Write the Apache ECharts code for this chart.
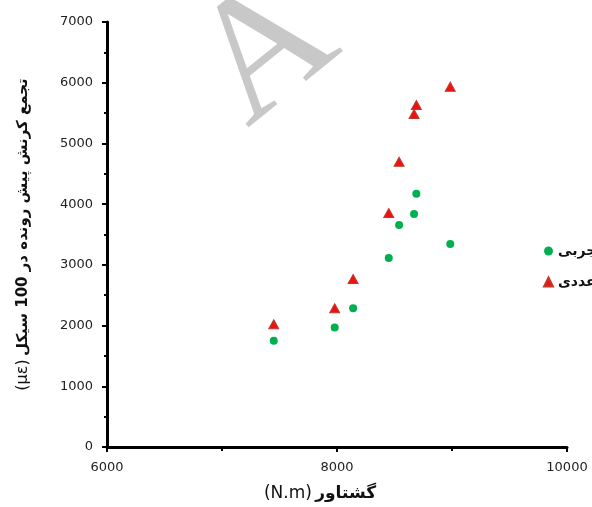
<!DOCTYPE html>
<html>
<head>
<meta charset="utf-8">
<script src="https://cdn.jsdelivr.net/npm/echarts@6/dist/echarts.min.js"></script>
<style>
html,body{margin:0;padding:0;background:#fff;}
#chart{width:592px;height:507px;}
</style>
</head>
<body>
<div id="chart"></div>
<script>
// Torque (N.m)
const torque = [7450, 7980, 8140, 8450, 8540, 8670, 8690, 8985];
// Experimental (تجربی) accumulated ratcheting strain in 100 cycles (με)
const experimental = [1750, 1970, 2285, 3113, 3657, 3838, 4172, 3344];
// Numerical (عددی)
const numerical = [2021, 2285, 2767, 3854, 4699, 5485, 5634, 5935];
const seriesNames = ['تجربی', 'عددی'];
const yTicks = [0, 1000, 2000, 3000, 4000, 5000, 6000, 7000];
const xTicks = [6000, 8000, 10000];

const chart = echarts.init(document.getElementById('chart'), null, {renderer: 'canvas'});
const pairs = (xs, ys) => xs.map((x, i) => [x, ys[i]]);
const axisStyle = {lineStyle: {color: '#000', width: 3}};
const plain = v => String(v);

chart.setOption({
  animation: false,
  backgroundColor: '#fff',
  grid: {left: 107, right: 25, top: 22, bottom: 60, containLabel: false},
  xAxis: {
    type: 'value', min: xTicks[0], max: xTicks[xTicks.length - 1], interval: 2000,
    axisLine: {show: true, ...axisStyle},
    axisTick: {show: true, length: 5, lineStyle: {color: '#000', width: 2}},
    minorTick: {show: true, splitNumber: 2, length: 4, lineStyle: {color: '#000', width: 2}},
    splitLine: {show: false},
    axisLabel: {color: '#222', fontSize: 13, fontFamily: 'DejaVu Sans', margin: 14, formatter: plain},
    name: '{a|(N.m)} {b|گشتاور}',
    nameLocation: 'middle', nameGap: 38,
    nameTextStyle: {
      padding: [0, 34, 0, 0],
      rich: {
        a: {fontSize: 17, fontFamily: 'DejaVu Sans', color: '#111'},
        b: {fontSize: 17, fontFamily: 'DejaVu Sans', fontWeight: 'bold', color: '#111'}
      }
    }
  },
  yAxis: {
    type: 'value', min: yTicks[0], max: yTicks[yTicks.length - 1], interval: 1000,
    axisLine: {show: true, ...axisStyle},
    axisTick: {show: true, length: 5, lineStyle: {color: '#000', width: 2}},
    minorTick: {show: true, splitNumber: 2, length: 3, lineStyle: {color: '#000', width: 2}},
    splitLine: {show: false},
    axisLabel: {color: '#222', fontSize: 13, fontFamily: 'DejaVu Sans', margin: 14, formatter: plain},
    name: '{a|(με)} {b|تجمع کرنش پیش رونده در 100 سیکل}',
    nameLocation: 'middle', nameGap: 76, nameRotate: 90,
    nameTextStyle: {
      rich: {
        a: {fontSize: 16, fontFamily: 'DejaVu Sans', color: '#111'},
        b: {fontSize: 15, fontFamily: 'DejaVu Sans', fontWeight: 'bold', color: '#111'}
      }
    }
  },
  legend: {
    orient: 'vertical', left: 543, top: 244, padding: 0,
    itemWidth: 9, itemHeight: 9, itemGap: 17,
    textStyle: {fontSize: 14, fontWeight: 'bold', fontFamily: 'DejaVu Sans', color: '#111'},
    data: [
      {name: seriesNames[0], icon: 'circle'},
      {name: seriesNames[1], icon: 'triangle'}
    ]
  },
  graphic: [
    {
      type: 'text', x: 273, y: 160, rotation: 0.68, z: -1, silent: true,
      style: {text: 'A', font: '172px "Liberation Serif"', fill: '#c8c8c8', textAlign: 'left', textVerticalAlign: 'bottom'}
    }
  ],
  series: [
    {
      name: seriesNames[0], type: 'scatter', symbol: 'circle', symbolSize: 8,
      itemStyle: {color: '#00b050', opacity: 1},
      data: pairs(torque, experimental)
    },
    {
      name: seriesNames[1], type: 'scatter', symbol: 'triangle', symbolSize: [10, 9],
      itemStyle: {color: '#ee1111', borderColor: '#c0392b', borderWidth: 1, opacity: 1},
      data: pairs(torque, numerical)
    }
  ]
});
</script>
</body>
</html>
